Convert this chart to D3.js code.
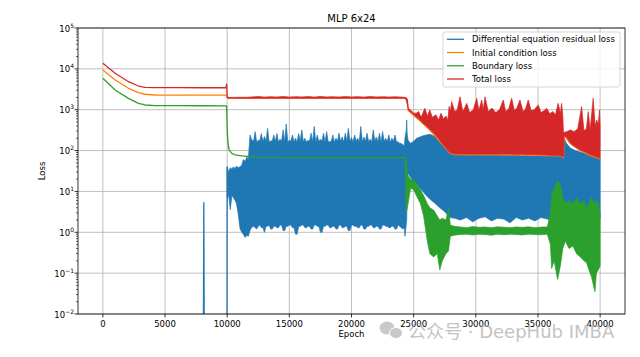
<!DOCTYPE html>
<html><head><meta charset="utf-8">
<script src="https://cdn.jsdelivr.net/npm/d3@7"></script>
<style>body{margin:0;background:#fff}svg{display:block}text{font-family:"DejaVu Sans","Noto Sans CJK SC",sans-serif}</style>
</head><body><svg id="c" width="640" height="357"></svg>
<script>
// ---------------- DATA ----------------
const title = "MLP 6x24";
const seriesNames = ["Differential equation residual loss","Initial condition loss","Boundary loss","Total loss"];
const seriesColors = ["#1f77b4","#ff7f0e","#2ca02c","#d62728"];
const xTickValues = [0,5000,10000,15000,20000,25000,30000,35000,40000];
const yTickExponents = [-2,-1,0,1,2,3,4,5];

// Residual loss: isolated spikes before epoch 10000 (below 1e-2 elsewhere)
const residualLineEpoch = [8080, 8120, 8160, 9985, 10000];
const residualLineValue = [0.001, 5.3, 0.001, 0.001, 40];
// Residual loss: oscillation envelope
const residualBandEpoch = [10000,10120,10250,10380,10500,10640,10750,10880,11040,11180,11300,11450,11580,11700,11840,11950,
 12125,12250,12375,12500,12625,12750,12875,13000,13125,13250,13375,13500,13625,13750,13875,14000,14125,14250,14375,14500,14625,14750,14875,15000,
 15125,15250,15375,15500,15625,15750,15875,16000,16125,16250,16375,16500,16625,16750,16875,17000,17125,17250,17375,17500,17625,17750,17875,18000,
 18125,18250,18375,18500,18625,18750,18875,19000,19125,19250,19375,19500,19625,19750,19875,20000,20125,20250,20375,20500,20625,20750,20875,21000,
 21125,21250,21375,21500,21625,21750,21875,22000,22125,22250,22375,22500,22625,22750,22875,23000,23125,23250,23375,23500,23625,23750,23875,24000,24125,24250,
 24300,24400,24440,24480,24550,24750,25000,25250,25500,25750,26000,26300,26750,27100,27500,27900,28300,
 28750,29250,29750,30250,30750,31250,31750,32250,32750,33250,33750,34250,34750,35250,35750,
 36000,36250,36500,36750,37000,37050,37100,37300,37600,38000,38400,38800,39200,39600,40000];
const residualLo = [7,8,3.6,8,7,6,5,2.9,1.2,1.0,0.9,0.75,0.85,0.8,1.1,1.3,
 1.4,1.3,1.2,1.4,1.5,1.3,1.3,1.0,1.4,1.4,1.5,1.2,1.2,1.4,1.4,1.3,1.3,1.5,1.5,1.1,1.1,1.4,1.4,1.5,
 1.5,1.3,1.3,0.9,0.9,1.4,1.4,1.5,1.5,1.3,1.3,1.4,1.4,1.2,1.2,1.5,1.5,1.4,1.4,1.0,1.0,1.4,1.4,1.5,
 1.5,1.3,1.3,1.4,1.4,1.2,1.2,1.5,1.5,1.3,1.3,1.4,1.4,1.1,1.1,1.5,1.5,1.4,1.4,1.3,1.3,1.5,1.5,1.2,
 1.2,1.4,1.4,1.5,1.5,1.3,1.3,1.4,1.4,1.2,1.2,1.5,1.5,1.4,1.4,1.3,1.3,1.4,1.4,1.2,1.2,1.5,1.4,1.3,1.2,1.3,
 0.8,1.5,2,10,28,22,18,15,12,10,8,6.5,5,4,3.2,2.3,2.2,
 2.0,2.3,1.8,2.2,2.4,1.9,2.2,2.1,1.7,2.3,2.0,2.2,1.9,2.3,2.1,
 2.0,2.0,2.0,2.1,2.5,3,4,4.2,3.8,3.4,3.0,2.8,2.6,2.4,2.2];
const residualHi = [40,30,38,35,40,36,42,38,40,45,60,55,70,60,240,190,
 170,290,160,180,175,260,165,220,170,350,160,175,170,240,165,260,160,190,170,320,165,450,160,180,
 170,240,165,200,160,260,170,320,165,200,160,180,170,265,165,390,160,240,165,190,170,265,160,290,
 165,165,170,240,160,200,170,265,165,215,160,265,170,350,165,210,160,240,170,200,165,390,160,215,
 170,265,165,190,160,320,170,215,165,265,160,290,170,200,165,240,160,200,170,240,160,165,150,150,140,130,
 200,300,560,250,180,150,170,200,215,230,240,250,220,160,115,86,80,
 78,77,78,79,77,78,78,77,78,79,77,78,77,77,76,
 76,75,75,73,68,120,200,150,115,100,92,85,78,70,63];

// Initial condition loss
const initialEpoch = [0,990,2060,2860,3400,4200,6000,8000,9950,10000,10050,24300,24450,24570,25100,25600,26200,26700,27200,27600,27950,28300,32000,36800,37050,37100,37600,38400,39200,40000];
const initialValue = [9380,5330,3340,2610,2390,2290,2285,2280,2280,2000,1920,1920,1800,950,680,505,340,232,155,112,85,80,79,74,68,235,148,100,76,63];

// Boundary loss: smooth part
const boundaryEpoch = [0,990,2060,2860,3400,4200,6000,8000,9950,9994,10050,10150,10370,10640,11180,11840,12500,18000,24300];
const boundaryValue = [5870,3040,1900,1430,1305,1260,1255,1250,1245,425,165,104,85,78,74,71,68,67,67];
// Boundary loss: oscillation envelope
const boundaryBandEpoch = [24300,24400,24500,24750,25000,25300,25550,25800,26100,26300,26600,26900,27100,27300,27600,27800,27950,28250,
 28750,29250,29750,30250,30750,31250,31750,32250,32750,33250,33750,34250,34750,35250,35750,
 36000,36100,36300,36580,36800,37000,37200,37500,37810,38100,38400,38700,38910,39100,39310,39580,39700,39850,40000];
const boundaryLo = [60,3,4,12,11,7,5,2.5,0.6,0.3,0.25,0.3,0.12,0.2,0.3,0.35,0.8,0.85,
 0.88,0.9,0.86,0.9,0.88,0.85,0.9,0.87,0.9,0.88,0.86,0.9,0.88,0.87,0.9,
 0.5,0.13,0.2,0.07,0.15,0.4,0.6,0.4,0.46,0.3,0.25,0.2,0.18,0.12,0.08,0.035,0.1,0.12,0.15];
const boundaryHi = [67,60,25,20,19,14,11,8,5,4,3.5,2.5,2.0,2.2,2.0,4,1.5,1.4,
 1.35,1.3,1.38,1.32,1.35,1.3,1.36,1.33,1.3,1.35,1.32,1.36,1.3,1.34,1.35,
 3,8,12,18,14,7,5,6,5,7,5,6,4,5,7,5,6,5,3];

// Total loss: smooth part
const totalEpoch = [0,990,2060,2860,3400,4200,6000,8000,9900,9960,10000,10060];
const totalValue = [13680,7780,4850,3800,3540,3460,3455,3450,3450,4200,2000,1980];
// Total loss: oscillation envelope
const totalBandEpoch = [10060,10500,11000,11500,12000,12500,13000,13500,14000,14500,15000,15500,16000,16500,17000,17500,18000,18500,19000,19500,20000,20500,21000,21500,22000,22500,23000,23500,24000,24300,24400,24500,
 24570,24800,25000,25200,25400,25600,25900,26100,26300,26500,26800,27000,27200,27400,27600,27750,27850,27950,28060,28300,28500,28730,28950,29100,29270,29500,29800,30070,30250,30470,30600,30740,31000,31300,31600,31900,32210,32400,32650,32880,33100,33300,33550,33800,34000,34220,34450,34700,35020,35250,35500,35700,35950,36200,36400,36630,36800,36900,37000,37050,
 37100,37300,37600,37900,38200,38510,38700,38900,39040,39200,39440,39600,39720,39850,39950,40000];
const totalLo = [1920,1920,1910,1920,1910,1920,1910,1920,1910,1920,1910,1920,1910,1920,1910,1920,1910,1920,1910,1920,1910,1920,1910,1920,1910,1920,1910,1920,1910,1900,1700,1300,
 985,860,760,670,600,520,430,380,330,290,230,195,160,135,115,100,93,88,85,83,82,82,82,82,82,82,82,82,82,82,82,82,82,82,82,82,82,82,82,82,81,81,81,81,80,80,80,80,79,79,78,78,77,77,76,76,75,73,71,70,
 240,210,155,130,112,100,95,88,84,80,75,72,70,67,66,65];
const totalHi = [2010,2000,2020,2010,2060,2100,2040,2080,2050,2110,2040,2090,2060,2100,2040,2110,2060,2080,2050,2100,2060,2090,2040,2100,2060,2080,2050,2070,2040,2000,1980,1800,
 1080,950,820,820,900,650,1080,700,985,650,750,560,820,600,700,560,1200,900,1570,900,1000,2080,900,1100,1430,850,1000,1900,950,1730,1000,2080,900,1100,850,1000,1730,900,1050,1900,950,1100,1730,900,1050,1730,950,1000,1310,850,950,1080,800,900,750,1430,800,1430,700,265,
 280,290,320,290,340,1190,300,350,895,330,1900,400,560,450,985,400];

// ---------------- CHART ----------------
const L=78,R=625,T=28,B=314;
const svg=d3.select("#c");
const x=d3.scaleLinear().domain([-2000,42000]).range([L,R]);
const y=d3.scaleLog().domain([1e-2,1e5]).range([B,T]);

const grid=svg.append("g");
grid.selectAll(".gx").data(xTickValues).join("line")
  .attr("x1",d=>x(d)).attr("x2",d=>x(d)).attr("y1",T).attr("y2",B)
  .attr("stroke","#b0b0b0").attr("stroke-width",0.8);
grid.selectAll(".gy").data(yTickExponents).join("line")
  .attr("x1",L).attr("x2",R).attr("y1",d=>y(Math.pow(10,d))).attr("y2",d=>y(Math.pow(10,d)))
  .attr("stroke","#b0b0b0").attr("stroke-width",0.8);

svg.append("defs").append("clipPath").attr("id","clip").append("rect")
  .attr("x",L).attr("y",T).attr("width",R-L).attr("height",B-T);
const plot=svg.append("g").attr("clip-path","url(#clip)");

const zip=(e,v)=>e.map((d,i)=>[d,v[i]]);
const zip3=(e,a,b)=>e.map((d,i)=>[d,a[i],b[i]]);
const line=d3.line().x(d=>x(d[0])).y(d=>y(d[1]));
const area=d3.area().x(d=>x(d[0])).y0(d=>y(d[1])).y1(d=>y(d[2]));
const lw=1.3;

function drawLine(e,v,c){
  plot.append("path").attr("d",line(zip(e,v))).attr("fill","none").attr("stroke",c).attr("stroke-width",lw).attr("stroke-linejoin","round");
}
function drawBand(e,lo,hi,c){
  plot.append("path").attr("d",area(zip3(e,lo,hi))).attr("fill",c).attr("stroke",c).attr("stroke-width",0.7).attr("stroke-linejoin","round");
}
drawLine(residualLineEpoch,residualLineValue,seriesColors[0]);
drawBand(residualBandEpoch,residualLo,residualHi,seriesColors[0]);
drawLine(initialEpoch,initialValue,seriesColors[1]);
drawLine(boundaryEpoch,boundaryValue,seriesColors[2]);
drawBand(boundaryBandEpoch,boundaryLo,boundaryHi,seriesColors[2]);
drawLine(totalEpoch,totalValue,seriesColors[3]);
drawBand(totalBandEpoch,totalLo,totalHi,seriesColors[3]);

svg.append("rect").attr("x",L).attr("y",T).attr("width",R-L).attr("height",B-T)
  .attr("fill","none").attr("stroke","#000").attr("stroke-width",0.8);

const fs=8.5;
svg.selectAll(".xt").data(xTickValues).join("line")
  .attr("x1",d=>x(d)).attr("x2",d=>x(d)).attr("y1",B).attr("y2",B+3.5).attr("stroke","#000").attr("stroke-width",0.8);
svg.selectAll(".xl").data(xTickValues).join("text")
  .attr("x",d=>x(d)).attr("y",B+12.5).attr("text-anchor","middle").attr("font-size",fs).attr("fill","#000").text(d=>d);

svg.selectAll(".yt").data(yTickExponents).join("line")
  .attr("x1",L-3.5).attr("x2",L).attr("y1",d=>y(Math.pow(10,d))).attr("y2",d=>y(Math.pow(10,d))).attr("stroke","#000").attr("stroke-width",0.8);
const minor=[];
yTickExponents.slice(0,-1).forEach(e=>{for(let k=2;k<10;k++)minor.push(k*Math.pow(10,e));});
svg.selectAll(".ym").data(minor).join("line")
  .attr("x1",L-2).attr("x2",L).attr("y1",d=>y(d)).attr("y2",d=>y(d)).attr("stroke","#000").attr("stroke-width",0.6);
const yl=svg.selectAll(".yl").data(yTickExponents).join("text")
  .attr("x",L-4).attr("y",d=>y(Math.pow(10,d))+3.5).attr("text-anchor","end").attr("font-size",fs).attr("fill","#000");
yl.append("tspan").text("10");
yl.append("tspan").attr("font-size",6).attr("dy",-4).text(d=>String(d).replace("-","\u2212"));

svg.append("text").attr("x",(L+R)/2).attr("y",22).attr("text-anchor","middle").attr("font-size",10).attr("fill","#000").text(title);
svg.append("text").attr("x",(L+R)/2).attr("y",337).attr("text-anchor","middle").attr("font-size",fs).attr("fill","#000").text("Epoch");
svg.append("text").attr("transform",`translate(45,${(T+B)/2}) rotate(-90)`).attr("text-anchor","middle").attr("font-size",fs).attr("fill","#000").text("Loss");

const lg=svg.append("g");
lg.append("rect").attr("x",443).attr("y",32).attr("width",177).attr("height",55).attr("rx",2)
  .attr("fill","#fff").attr("fill-opacity",0.8).attr("stroke","#cccccc").attr("stroke-width",0.8);
const ly=[39.3,52.5,65.8,79];
seriesNames.forEach((n,i)=>{
  lg.append("line").attr("x1",447).attr("x2",464).attr("y1",ly[i]).attr("y2",ly[i]).attr("stroke",seriesColors[i]).attr("stroke-width",lw);
  lg.append("text").attr("x",472).attr("y",ly[i]+3).attr("font-size",fs).attr("fill","#000").text(n);
});

const wm=svg.append("g").attr("opacity",0.75);
wm.append("ellipse").attr("cx",387).attr("cy",328).attr("rx",7.5).attr("ry",6.5).attr("fill","#b8b8b8");
wm.append("ellipse").attr("cx",396).attr("cy",333).attr("rx",6.5).attr("ry",5.5).attr("fill","#b8b8b8").attr("stroke","#fff").attr("stroke-width",1);
wm.append("text").attr("x",408).attr("y",338).attr("font-size",18).attr("fill","#b0b0b0").text("公众号 · DeepHub IMBA");
</script></body></html>
